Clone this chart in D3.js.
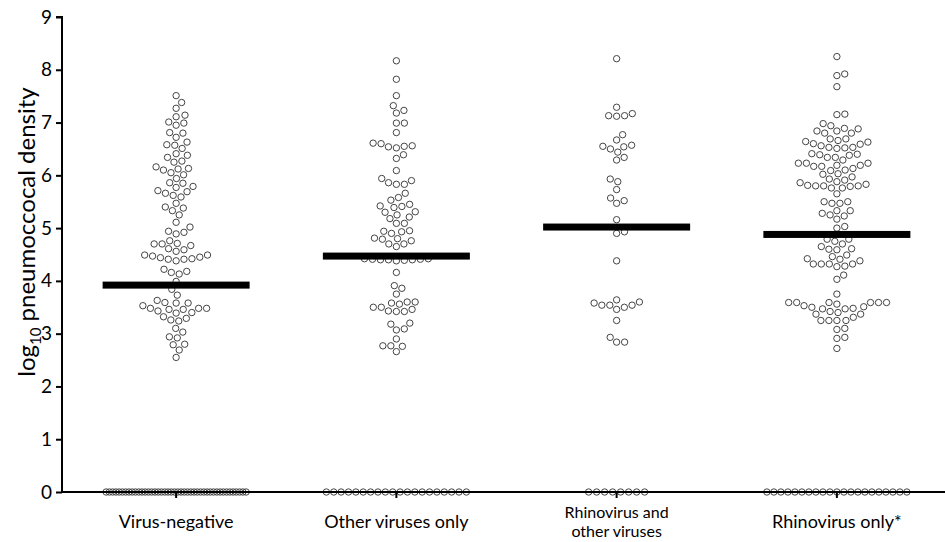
<!DOCTYPE html>
<html>
<head>
<meta charset="utf-8">
<script src="https://cdn.jsdelivr.net/npm/d3@7"></script>
<style>
  body { margin: 0; background: #fff; }
  text { font-family: Lato, "Open Sans", sans-serif; }
</style>
</head>
<body>
<svg id="chart" width="945" height="542"></svg>
<script>
// categories and labels
let categories = ["Virus-negative", "Other viruses only", "Rhinovirus and other viruses", "Rhinovirus only*"];
let labelLines = [["Virus-negative"], ["Other viruses only"], ["Rhinovirus and", "other viruses"], ["Rhinovirus only*"]];
let yTicks = [0, 1, 2, 3, 4, 5, 6, 7, 8, 9];

// log10 density values (non-zero)
let virusNegative = [7.51, 7.38, 7.27, 7.11, 7.14, 6.99, 6.95, 7.01, 6.81, 6.72, 6.80, 6.63, 6.57, 6.51, 6.58,
  6.38, 6.27, 6.34, 6.41, 6.25, 6.16, 6.12, 6.05, 6.10, 6.13, 6.01, 5.94, 5.86, 5.79, 5.77, 5.85, 5.71, 5.66,
  5.59, 5.62, 5.69, 5.47, 5.38, 5.33, 5.40, 5.25, 5.11, 5.02, 4.92, 4.94, 4.89, 4.76, 4.70, 4.67, 4.70, 4.71,
  4.59, 4.56, 4.61, 4.49, 4.47, 4.44, 4.41, 4.38, 4.41, 4.42, 4.45, 4.49, 4.22, 4.16, 4.13, 4.18, 3.99, 3.84,
  3.73, 3.63, 3.59, 3.58, 3.53, 3.48, 3.40, 3.46, 3.43, 3.46, 3.39, 3.48, 3.48, 3.58, 3.29, 3.26, 3.24, 3.32,
  3.10, 3.03, 2.92, 2.94, 2.79, 2.80, 2.69, 2.55];
let otherVirusesOnly = [8.17, 7.82, 7.51, 7.32, 7.23, 7.18, 6.99, 6.99, 6.81, 6.60, 6.55, 6.52, 6.54, 6.56, 6.61,
  6.39, 6.32, 6.09, 5.90, 5.83, 5.83, 5.86, 5.94, 5.66, 5.58, 5.53, 5.42, 5.41, 5.39, 5.45, 5.31, 5.25, 5.21,
  5.30, 5.18, 5.09, 5.09, 4.94, 4.90, 4.93, 4.95, 4.80, 4.76, 4.70, 4.65, 4.70, 4.79, 4.81, 4.40, 4.41, 4.42,
  4.40, 4.38, 4.39, 4.42, 4.41, 4.40, 4.16, 3.86, 3.91, 3.75, 3.60, 3.60, 3.56, 3.50, 3.43, 3.42, 3.42, 3.46,
  3.50, 3.58, 3.20, 3.09, 3.07, 3.18, 2.90, 2.77, 2.76, 2.77, 2.66];
let rhinoAndOther = [8.21, 7.29, 7.13, 7.12, 7.13, 7.17, 6.77, 6.67, 6.55, 6.50, 6.54, 6.57, 6.44, 6.34, 6.29,
  5.88, 5.93, 5.73, 5.57, 5.47, 5.52, 5.16, 4.90, 4.93, 4.38, 3.58, 3.54, 3.50, 3.64, 3.46, 3.54, 3.54, 3.60,
  3.25, 2.84, 2.84, 2.93];
let rhinoOnly = [8.25, 7.89, 7.92, 7.68, 7.15, 7.16, 6.98, 6.94, 6.88, 6.84, 6.80, 6.80, 6.84, 6.89, 6.69, 6.66,
  6.63, 6.59, 6.56, 6.60, 6.64, 6.69, 6.53, 6.51, 6.52, 6.53, 6.40, 6.38, 6.39, 6.41, 6.34, 6.29, 6.34, 6.17,
  6.13, 6.23, 6.19, 6.19, 6.23, 6.23, 6.17, 6.10, 6.09, 6.02, 6.03, 5.97, 5.91, 5.86, 5.83, 5.88, 5.93, 5.80,
  5.80, 5.76, 5.76, 5.79, 5.80, 5.81, 5.65, 5.50, 5.47, 5.47, 5.50, 5.33, 5.28, 5.17, 5.23, 5.25, 5.33, 5.03,
  5.00, 4.79, 4.70, 4.75, 4.79, 4.61, 4.59, 4.65, 4.60, 4.46, 4.49, 4.41, 4.32, 4.32, 4.28, 4.27, 4.32, 4.32,
  4.38, 4.42, 4.11, 4.03, 3.75, 3.59, 3.59, 3.59, 3.59, 3.59, 3.59, 3.56, 3.51, 3.48, 3.47, 3.42, 3.47, 3.50,
  3.53, 3.40, 3.37, 3.37, 3.31, 3.25, 3.25, 3.25, 3.25, 3.10, 3.08, 2.91, 2.93, 2.72];

// number of samples at 0 (undetected) and median per group
let zeroCounts = [44, 20, 8, 21];
let medians = [3.92, 4.47, 5.02, 4.88];

let groups = [virusNegative, otherVirusesOnly, rhinoAndOther, rhinoOnly];

let svg = d3.select("#chart");

let mLeft = 62, mRight = 945, mTop = 17, mBottom = 492;
let r = 3.2, gap = 8, barWidth = 147, maxZeroWidth = 140;

let yScale = d3.scaleLinear().domain([0, 9]).range([mBottom, mTop]);
let xScale = d3.scaleBand().domain(categories).range([66, 947]).padding(0);
let center = c => xScale(c) + xScale.bandwidth() / 2;

// simple beeswarm: each point goes to the free spot closest to the centre
function swarm(values) {
  let placed = [];
  let sorted = values.map(v => ({ v: v, y: yScale(v) })).sort((a, b) => a.v - b.v);
  sorted.forEach(function (p) {
    let near = placed.filter(q => Math.abs(q.y - p.y) < gap);
    let cands = [0];
    near.forEach(function (q) {
      let dx = Math.sqrt(gap * gap - (q.y - p.y) * (q.y - p.y));
      cands.push(q.x + dx, q.x - dx);
    });
    cands.sort((a, b) => Math.abs(a) - Math.abs(b));
    let best = cands.find(x => near.every(q => (q.x - x) ** 2 + (q.y - p.y) ** 2 >= gap * gap - 0.01));
    p.x = best;
    placed.push(p);
  });
  return placed;
}

let plot = svg.append("g");

groups.forEach(function (vals, i) {
  let cx = center(categories[i]);
  let pts = swarm(vals);

  // zero row, squeezed into a fixed width
  let n = zeroCounts[i];
  let step = Math.min(gap, maxZeroWidth / (n - 1));
  d3.range(n).forEach(function (k) {
    pts.push({ v: 0, y: yScale(0), x: (k - (n - 1) / 2) * step });
  });

  plot.append("g")
    .selectAll("circle")
    .data(pts)
    .enter()
    .append("circle")
    .attr("cx", d => cx + d.x)
    .attr("cy", d => d.y)
    .attr("r", r)
    .attr("fill", "none")
    .attr("stroke", "#444")
    .attr("stroke-width", 1);
});

// median bars
svg.append("g")
  .selectAll("rect")
  .data(medians)
  .enter()
  .append("rect")
  .attr("x", (d, i) => center(categories[i]) - barWidth / 2)
  .attr("y", d => yScale(d) - 3.5)
  .attr("width", barWidth)
  .attr("height", 7)
  .attr("fill", "#000");

// y axis
let yAxis = d3.axisLeft(yScale).tickValues(yTicks).tickSize(6).tickPadding(4).tickFormat(d3.format("d"));
let yg = svg.append("g")
  .attr("transform", `translate(${mLeft}, 0)`)
  .call(yAxis);
yg.select(".domain").attr("stroke-width", 2).attr("d", `M-6,${mTop}H0V${mBottom}`);
yg.selectAll(".tick line").attr("stroke-width", 2);
yg.selectAll(".tick text").style("font-size", "19px").attr("fill", "#000");

// x axis
let xAxis = d3.axisBottom(xScale).tickSize(6).tickFormat("");
let xg = svg.append("g")
  .attr("transform", `translate(0, ${mBottom})`)
  .call(xAxis);
xg.select(".domain").attr("stroke-width", 2).attr("d", `M${mLeft},0H${mRight}`);
xg.selectAll(".tick line").attr("stroke-width", 2);

// category labels, one text per line
labelLines.forEach(function (lines, i) {
  lines.forEach(function (ln, k) {
    svg.append("text")
      .attr("x", center(categories[i]))
      .attr("y", lines.length > 1 ? 518 + k * 19 : 528)
      .attr("text-anchor", "middle")
      .style("font-size", lines.length > 1 ? "16px" : "18px")
      .attr("fill", "#000")
      .text(ln);
  });
});

// y axis label
let yl = svg.append("text")
  .attr("transform", "translate(35, 232) rotate(-90)")
  .attr("text-anchor", "middle")
  .style("font-size", "24px")
  .attr("fill", "#000");
yl.append("tspan").text("log");
yl.append("tspan").attr("dy", 6).style("font-size", "15px").text("10");
yl.append("tspan").attr("dy", -6).text(" pneumoccocal density");
</script>
</body>
</html>
